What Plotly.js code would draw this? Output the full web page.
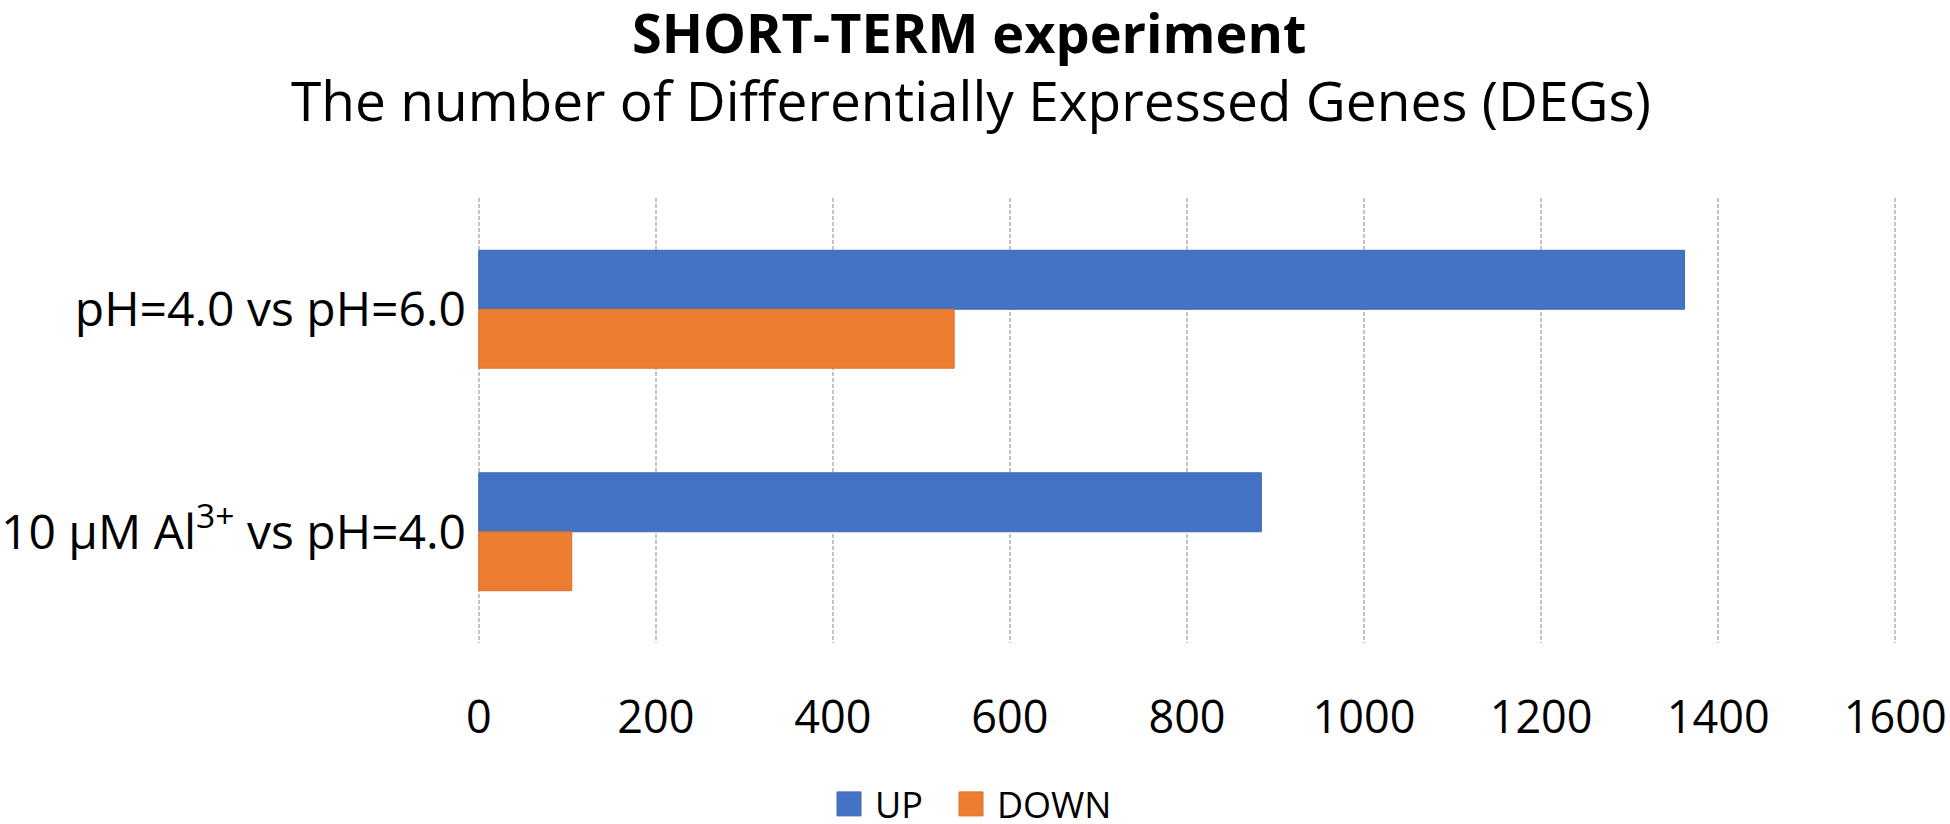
<!DOCTYPE html>
<html>
<head>
<meta charset="utf-8">
<script src="https://cdn.plot.ly/plotly-3.0.1.min.js"></script>
<style>
html, body { margin: 0; padding: 0; background: #ffffff; }
#chart { width: 1950px; height: 824px; }
</style>
</head>
<body>
<div id="chart"></div>
<script>
const categories = ['pH=4.0 vs pH=6.0', '10 µM Al<sup>3+</sup> vs pH=4.0'];
const upValues = [1362, 884];
const downValues = [537, 105];
const xTickValues = [0, 200, 400, 600, 800, 1000, 1200, 1400, 1600];
const seriesNames = ['UP', 'DOWN'];
const titleText = 'SHORT-TERM experiment';
const subtitleText = 'The number of Differentially Expressed Genes (DEGs)';

const FONT = '"Open Sans", "Noto Sans", sans-serif';

const traces = [
  {
    type: 'bar', orientation: 'h', name: seriesNames[0],
    y: categories, x: upValues,
    marker: { color: '#4472C4', line: { color: '#3f69b6', width: 1 } }
  },
  {
    type: 'bar', orientation: 'h', name: seriesNames[1],
    y: categories, x: downValues,
    marker: { color: '#ED7D31', line: { color: '#de7029', width: 1 } }
  }
];

const layout = {
  width: 1950, height: 824,
  paper_bgcolor: '#ffffff', plot_bgcolor: '#ffffff',
  font: { family: FONT, color: '#000000', size: 44 },
  margin: { l: 477, r: 53, t: 198, b: 181, pad: 0, autoexpand: false },
  barmode: 'group', bargap: 0.47, bargroupgap: 0,
  title: {
    text: '<b>' + titleText + '</b>',
    font: { family: FONT, size: 54, color: '#000000' },
    x: 0.497, xref: 'container', xanchor: 'center',
    y: 1 - 34 / 824, yref: 'container', yanchor: 'middle'
  },
  annotations: [{
    text: subtitleText, showarrow: false,
    xref: 'paper', yref: 'paper',
    x: 0.348, y: (643 - 99) / 445, xanchor: 'center', yanchor: 'middle',
    font: { family: FONT, size: 55, color: '#000000' }
  }],
  xaxis: {
    range: [-2, 1602], tickvals: xTickValues, ticktext: xTickValues.map(String),
    showgrid: true, gridcolor: '#c3c3c3', gridwidth: 2, griddash: '4px,2px',
    zeroline: false, showline: false, ticks: '', tickangle: 0, automargin: false,
    tickfont: { family: FONT, size: 45, color: '#000000' },
    ticklabelstandoff: 44, fixedrange: true
  },
  yaxis: {
    type: 'category', range: [1.5, -0.5], automargin: false,
    showgrid: false, zeroline: false, showline: false, ticks: '',
    tickfont: { family: FONT, size: 48, color: '#000000' },
    ticklabelstandoff: 10, fixedrange: true
  },
  showlegend: true,
  legend: {
    orientation: 'h', xref: 'container', yref: 'container',
    x: 835 / 1950, xanchor: 'left', y: 0, yanchor: 'bottom',
    font: { family: FONT, size: 36, color: '#000000' },
    traceorder: 'normal', itemwidth: 30, entrywidth: 77, entrywidthmode: 'pixels'
  }
};

Plotly.newPlot('chart', traces, layout, { displayModeBar: false, responsive: false, staticPlot: true }).then(function () {
  document.querySelectorAll('#chart .legendpoints path').forEach(function (p) {
    p.setAttribute('d', 'M6,12H-18V-12H6Z');
    p.style.strokeWidth = '1px';
  });
  const lg = document.querySelector('#chart g.legend');
  if (lg) {
    lg.querySelectorAll('[clip-path]').forEach(function (e) { e.removeAttribute('clip-path'); });
    const t = lg.getAttribute('transform') || '';
    const m = t.match(/translate\(\s*([-\d.]+)[ ,]+([-\d.]+)\s*\)/);
    if (m) {
      lg.setAttribute('transform', 'translate(' + m[1] + ',' + (parseFloat(m[2]) + 10) + ')');
    }
  }
});
</script>
</body>
</html>
